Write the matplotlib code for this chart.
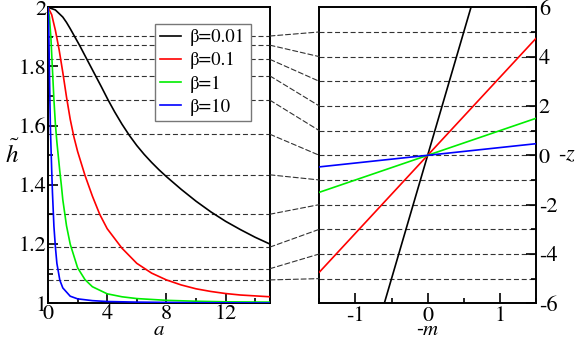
import matplotlib
matplotlib.use("Agg")
import matplotlib.pyplot as plt
from matplotlib.patches import ConnectionPatch
from matplotlib.ticker import MultipleLocator

# left panel: h~ versus a
a_black = [0, 0.5, 1, 1.25, 1.5, 1.78, 2.16, 2.61, 3.21, 3.6, 4.05, 4.5, 5, 5.5, 6, 6.5, 7, 7.5, 8,
           9, 10, 11, 12, 13, 14, 15]
h_black = [2.0, 1.991, 1.967, 1.949, 1.928, 1.903, 1.869, 1.826, 1.769, 1.732, 1.688, 1.647, 1.605,
           1.567, 1.533, 1.503, 1.476, 1.451, 1.428, 1.385, 1.345, 1.309, 1.277, 1.249, 1.223, 1.200]

a_red = [0, 0.25, 0.5, 0.75, 1.0, 1.25, 1.5, 1.75, 2.0, 2.5, 3.0, 3.5, 4.0, 5.0, 6.0, 7.0, 8.0,
         9.0, 10.0, 11.0, 12.0, 13.0, 14.0, 15.0]
h_red = [2.0, 1.975, 1.922, 1.857, 1.780, 1.697, 1.622, 1.562, 1.513, 1.432, 1.362, 1.300, 1.252,
         1.186, 1.135, 1.102, 1.079, 1.062, 1.049, 1.040, 1.033, 1.028, 1.025, 1.022]

a_green = [0, 0.1, 0.2, 0.3, 0.4, 0.5, 0.6, 0.7, 0.8, 0.9, 1.0, 1.25, 1.5, 2, 2.5, 3, 4, 5, 6, 8, 10, 12, 15]
h_green = [2.0, 1.965, 1.893, 1.790, 1.688, 1.605, 1.545, 1.495, 1.445, 1.400, 1.350, 1.262, 1.200,
           1.120, 1.080, 1.056, 1.032, 1.022, 1.016, 1.010, 1.007, 1.005, 1.004]

a_blue = [0, 0.03, 0.06, 0.1, 0.13, 0.16, 0.2, 0.25, 0.3, 0.4, 0.5, 0.6, 0.8, 1.0, 1.5, 2, 3, 4, 6, 10, 15]
h_blue = [2.0, 1.967, 1.900, 1.774, 1.680, 1.600, 1.530, 1.450, 1.375, 1.260, 1.190, 1.135, 1.078,
          1.052, 1.024, 1.015, 1.009, 1.006, 1.004, 1.002, 1.001]

# right panel: straight lines -z vs -m (end points)
m_ends = {"black": [-0.6, 0.6], "red": [-1.5, 1.5], "green": [-1.5, 1.5], "blue": [-1.5, 1.5]}
z_ends = {"black": [-6, 6], "red": [-4.74, 4.74], "green": [-1.5, 1.5], "blue": [-0.47, 0.47]}

labels = ["β=0.01", "β=0.1", "β=1", "β=10"]
colors = ["black", "red", "#00ee00", "blue"]
keys = ["black", "red", "green", "blue"]

# dashed guide levels and the -z values they map to
h_levels = [1.903, 1.872, 1.824, 1.768, 1.686, 1.571, 1.434, 1.301, 1.190, 1.117, 1.079]
z_levels = [5, 4, 3, 2, 1, 0, -1, -2, -3, -4, -5]

# STIX ships with matplotlib, Times-like
plt.rcParams["font.family"] = ["STIXGeneral", "DejaVu Serif"]
plt.rcParams["mathtext.fontset"] = "stix"
plt.rcParams["axes.unicode_minus"] = False

fig = plt.figure(figsize=(5.81, 3.40), dpi=100)
ax1 = fig.add_axes([48 / 581, 1 - 303.3 / 340, 222 / 581, 296 / 340])
ax2 = fig.add_axes([319.3 / 581, 1 - 303.3 / 340, 216.7 / 581, 296 / 340])

dash = (0, (4.5, 2.5))
guide_color = "#333333"
fmt = plt.FuncFormatter(lambda v, p: f"{v:g}")

# left panel
ax1.hlines(h_levels, 0, 15, colors=guide_color, linestyles=dash, linewidth=0.8, zorder=1)
curves = [(a_black, h_black), (a_red, h_red), (a_green, h_green), (a_blue, h_blue)]
for (a, h), c, lab in zip(curves, colors, labels):
    ax1.plot(a, h, color=c, linewidth=1.2, label=lab, zorder=3)

ax1.set_xlim(0, 15)
ax1.set_ylim(1, 2)
ax1.xaxis.set_major_locator(MultipleLocator(4))
ax1.xaxis.set_minor_locator(MultipleLocator(2))
ax1.yaxis.set_major_locator(MultipleLocator(0.2))
ax1.yaxis.set_minor_locator(MultipleLocator(0.1))
ax1.xaxis.set_major_formatter(fmt)
ax1.yaxis.set_major_formatter(fmt)
ax1.tick_params(which="both", direction="in", top=False, right=False, labelsize=16, width=1.2)
ax1.tick_params(which="major", length=7, pad=1)
ax1.tick_params(which="minor", length=3.5)
ax1.set_xlabel(r"$a$", fontsize=15, va="center")
ax1.xaxis.set_label_coords(0.5, -0.092)
ax1.set_ylabel(r"$\tilde{h}$", fontsize=18, rotation=0, va="center", ha="center")
ax1.yaxis.set_label_coords(-0.16, 0.5)

leg = ax1.legend(loc="upper left", bbox_to_anchor=(0.482, 0.944), borderaxespad=0,
                 fontsize=13.5, frameon=True, fancybox=False, framealpha=1,
                 edgecolor="#777777", handlelength=1.1, handletextpad=0.5,
                 labelspacing=0.32, borderpad=0.28)
leg.get_frame().set_linewidth(1.0)
leg.set_zorder(5)

# right panel
ax2.hlines(z_levels, -1.5, 1.5, colors=guide_color, linestyles=dash, linewidth=0.8, zorder=1)
for k, c in zip(keys, colors):
    ax2.plot(m_ends[k], z_ends[k], color=c, linewidth=1.2, zorder=3)

ax2.set_xlim(-1.5, 1.5)
ax2.set_ylim(-6, 6)
ax2.xaxis.set_major_locator(MultipleLocator(1))
ax2.xaxis.set_minor_locator(MultipleLocator(0.5))
ax2.yaxis.set_major_locator(MultipleLocator(2))
ax2.yaxis.set_minor_locator(MultipleLocator(1))
ax2.yaxis.tick_right()
ax2.xaxis.set_major_formatter(fmt)
ax2.yaxis.set_major_formatter(fmt)
ax2.tick_params(which="both", direction="in", top=False, left=False, labelsize=16, width=1.2)
ax2.tick_params(which="major", length=7, pad=2)
ax2.tick_params(which="minor", length=3.5)
ax2.set_xlabel("-" + r"$m$", fontsize=15, va="center")
ax2.xaxis.set_label_coords(0.5, -0.092)
ax2.yaxis.set_label_position("right")
ax2.set_ylabel("-" + r"$z$", fontsize=16, rotation=0, va="center", ha="center")
ax2.yaxis.set_label_coords(1.145, 0.5)

for ax in (ax1, ax2):
    for sp in ax.spines.values():
        sp.set_linewidth(1.4)

# connectors between the two panels
for h, z in zip(h_levels, z_levels):
    con = ConnectionPatch(xyA=(15, h), coordsA=ax1.transData,
                          xyB=(-1.5, z), coordsB=ax2.transData,
                          color=guide_color, linestyle=dash, linewidth=0.8)
    fig.add_artist(con)

fig.savefig("out.png", dpi=100)
